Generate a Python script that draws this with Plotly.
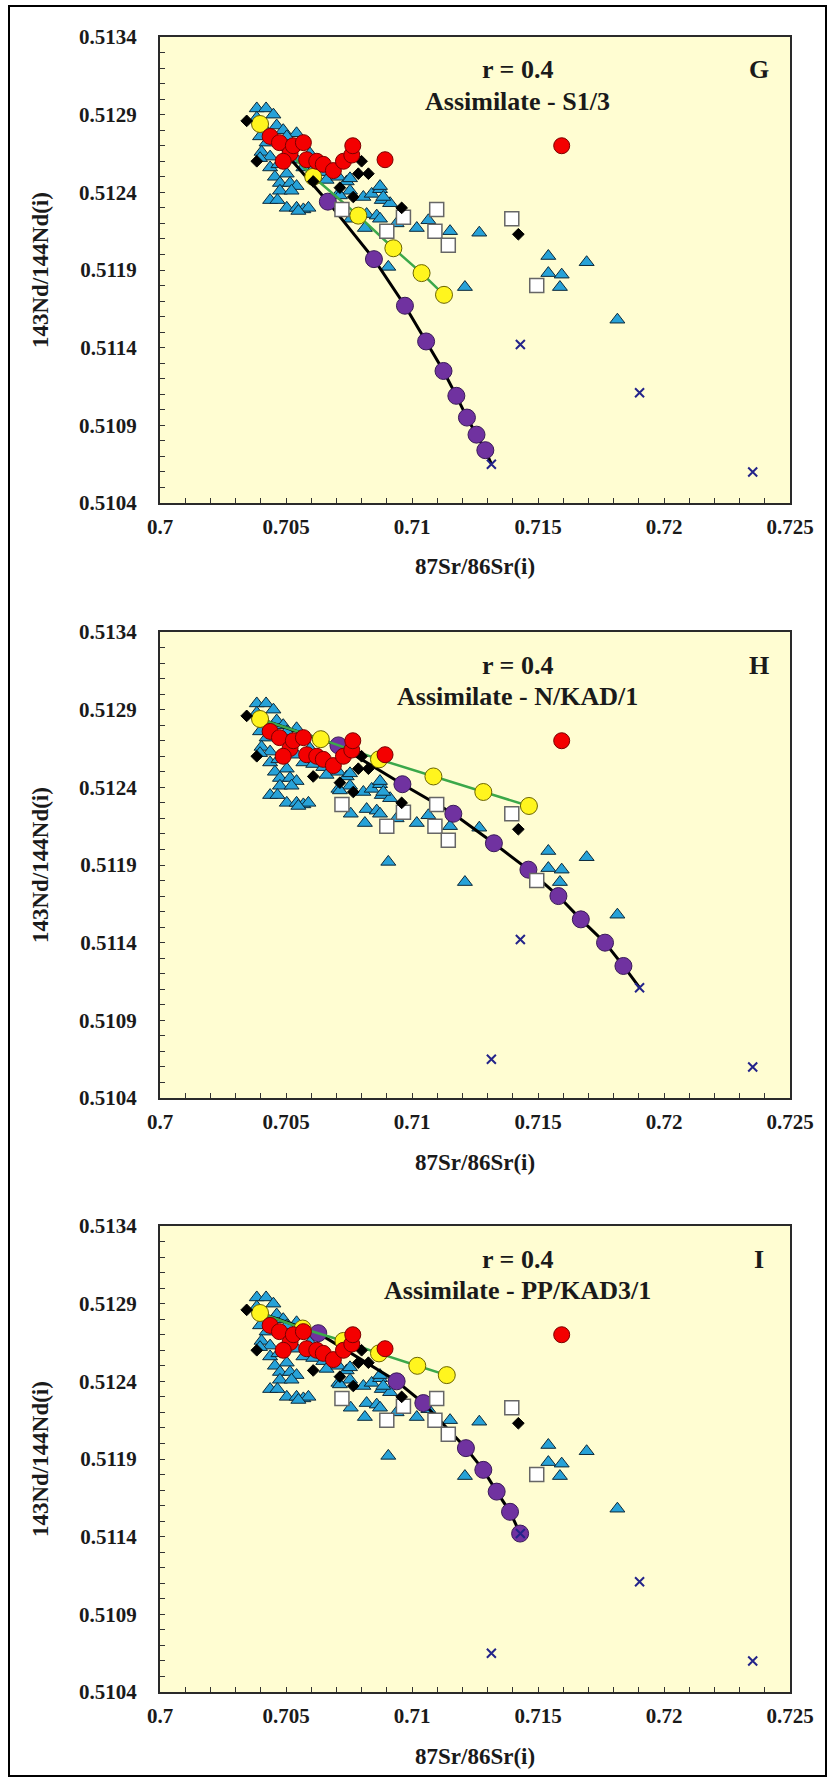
import plotly.graph_objects as go

# ---------------- data ----------------
x_ticks = [0.7, 0.705, 0.71, 0.715, 0.72, 0.725]
x_ticktext = ["0.7", "0.705", "0.71", "0.715", "0.72", "0.725"]
y_ticks = [0.5104, 0.5109, 0.5114, 0.5119, 0.5124, 0.5129, 0.5134]
y_ticktext = ["0.5104", "0.5109", "0.5114", "0.5119", "0.5124", "0.5129", "0.5134"]

tri_x = [0.70384, 0.70421, 0.70450, 0.70384, 0.70410, 0.70463, 0.70489, 0.70397, 0.70423, 0.70403,
         0.70437, 0.70397, 0.70437, 0.70470, 0.70456, 0.70503, 0.70476, 0.70516, 0.70542, 0.70542,
         0.70503, 0.70569, 0.70542, 0.70608, 0.70648, 0.70661, 0.70708, 0.70741, 0.70754, 0.70754,
         0.70807, 0.70840, 0.70873, 0.70880, 0.70913, 0.70820, 0.70860, 0.70708, 0.70556, 0.70595,
         0.70476, 0.70522, 0.70873, 0.70886, 0.70873, 0.70939, 0.70714, 0.70813, 0.70757,
         0.70437, 0.70466, 0.70503, 0.70542, 0.70569, 0.70589, 0.70549,
         0.70906, 0.71019, 0.71065, 0.71151, 0.71267, 0.71541, 0.71541, 0.71594, 0.71587, 0.71693,
         0.71210, 0.71815]
tri_y = [0.51294, 0.51294, 0.51290, 0.51288, 0.51282, 0.51283, 0.51280, 0.51276, 0.51272, 0.51266,
         0.51263, 0.51262, 0.51256, 0.51258, 0.51250, 0.51252, 0.51246, 0.51246, 0.51244, 0.51278,
         0.51276, 0.51256, 0.51261, 0.51255, 0.51253, 0.51248, 0.51250, 0.51247, 0.51249, 0.51241,
         0.51237, 0.51239, 0.51242, 0.51235, 0.51233, 0.51226, 0.51225, 0.51239, 0.51272, 0.51265,
         0.51241, 0.51241, 0.51244, 0.51237, 0.51223, 0.51220, 0.51238, 0.51217, 0.51223,
         0.51235, 0.51235, 0.51230, 0.51230, 0.51229, 0.51230, 0.51228,
         0.51192, 0.51217, 0.51222, 0.51215, 0.51214, 0.51199, 0.51188, 0.51187, 0.51179, 0.51195,
         0.51179, 0.51158]

red_x = [0.70437, 0.70474, 0.70516, 0.70489, 0.70529, 0.70569, 0.70582, 0.70622, 0.70648, 0.70688,
         0.70728, 0.70761, 0.70765, 0.70893, 0.71594]
red_y = [0.51276, 0.51272, 0.51265, 0.51260, 0.51270, 0.51272, 0.51261, 0.51260, 0.51258, 0.51254,
         0.51260, 0.51264, 0.51270, 0.51261, 0.51270]

dia_x = [0.70344, 0.70384, 0.70608, 0.70714, 0.70767, 0.70800, 0.70787, 0.70827, 0.70959, 0.71422]
dia_y = [0.51286, 0.51260, 0.51247, 0.51243, 0.51237, 0.51260, 0.51252, 0.51252, 0.51230, 0.51213]

sq_x = [0.70722, 0.70966, 0.70900, 0.71098, 0.71091, 0.71144, 0.71396, 0.71495]
sq_y = [0.51229, 0.51224, 0.51215, 0.51229, 0.51215, 0.51206, 0.51223, 0.51180]

cross_x = [0.71315, 0.71430, 0.71903, 0.72352]
cross_y = [0.51065, 0.51142, 0.51111, 0.51060]

# model curves per panel
start_x, start_y = 0.70397, 0.51284

g_yel_x = [0.70397, 0.70608, 0.70787, 0.70926, 0.71038, 0.71127]
g_yel_y = [0.51284, 0.51250, 0.51225, 0.51204, 0.51188, 0.51174]
g_pur_x = [0.70666, 0.70849, 0.70972, 0.71056, 0.71125, 0.71176, 0.71218, 0.71256, 0.71291]
g_pur_y = [0.51234, 0.51197, 0.51167, 0.51144, 0.51125, 0.51109, 0.51095, 0.51084, 0.51074]
g_end = (0.71315, 0.51065)

h_yel_x = [0.70397, 0.70638, 0.70869, 0.71085, 0.71283, 0.71464]
h_yel_y = [0.51284, 0.51271, 0.51258, 0.51247, 0.51237, 0.51228]
h_pur_x = [0.70708, 0.70962, 0.71164, 0.71325, 0.71462, 0.71581, 0.71670, 0.71766, 0.71839]
h_pur_y = [0.51267, 0.51242, 0.51223, 0.51204, 0.51187, 0.51170, 0.51155, 0.51140, 0.51125]
h_end = (0.71903, 0.51111)

i_yel_x = [0.70397, 0.70566, 0.70728, 0.70869, 0.71021, 0.71138]
i_yel_y = [0.51284, 0.51274, 0.51266, 0.51258, 0.51250, 0.51244]
i_pur_x = [0.70628, 0.70939, 0.71045, 0.71214, 0.71283, 0.71336, 0.71389, 0.71429]
i_pur_y = [0.51271, 0.51240, 0.51226, 0.51197, 0.51183, 0.51169, 0.51156, 0.51142]
i_end = (0.71429, 0.51142)

panel_letters = ["G", "H", "I"]
panel_assim = ["Assimilate - S1/3", "Assimilate - N/KAD/1", "Assimilate - PP/KAD3/1"]
r_text = "r = 0.4"

# ---------------- layout geometry ----------------
W, H = 830, 1779
PX_L, PX_R = 160, 790
panel_tops = [37, 632, 1226]
PANEL_H = 466

def py(p):
    return 1 - p / H

fig = go.Figure()

FONT = "Liberation Serif"
TXT = "#1a1a1a"
models = [
    (g_yel_x, g_yel_y, g_pur_x, g_pur_y, g_end),
    (h_yel_x, h_yel_y, h_pur_x, h_pur_y, h_end),
    (i_yel_x, i_yel_y, i_pur_x, i_pur_y, i_end),
]

for k in range(3):
    xa = "x" if k == 0 else f"x{k+1}"
    ya = "y" if k == 0 else f"y{k+1}"
    yel_x, yel_y, pur_x, pur_y, end = models[k]

    fig.add_trace(go.Scatter(x=tri_x, y=tri_y, mode="markers", xaxis=xa, yaxis=ya,
                             marker=dict(symbol="triangle-up", size=13, color="#27A2D8",
                                         line=dict(color="#0d2a3a", width=1))))
    fig.add_trace(go.Scatter(x=[start_x] + pur_x + [end[0]], y=[start_y] + pur_y + [end[1]],
                             mode="lines", xaxis=xa, yaxis=ya,
                             line=dict(color="black", width=3)))
    fig.add_trace(go.Scatter(x=pur_x, y=pur_y, mode="markers", xaxis=xa, yaxis=ya,
                             marker=dict(symbol="circle", size=17, color="#7032A0",
                                         line=dict(color="#3a1a58", width=1))))
    fig.add_trace(go.Scatter(x=yel_x, y=yel_y, mode="lines+markers", xaxis=xa, yaxis=ya,
                             line=dict(color="#3BA84A", width=2.5),
                             marker=dict(symbol="circle", size=17, color="#FFF51E",
                                         line=dict(color="#6b6400", width=1))))
    fig.add_trace(go.Scatter(x=sq_x, y=sq_y, mode="markers", xaxis=xa, yaxis=ya,
                             marker=dict(symbol="square", size=14, color="white",
                                         line=dict(color="#666666", width=1.5))))
    fig.add_trace(go.Scatter(x=dia_x, y=dia_y, mode="markers", xaxis=xa, yaxis=ya,
                             marker=dict(symbol="diamond", size=9, color="black",
                                         line=dict(color="black", width=1))))
    fig.add_trace(go.Scatter(x=red_x, y=red_y, mode="markers", xaxis=xa, yaxis=ya,
                             marker=dict(symbol="circle", size=16, color="#F40000",
                                         line=dict(color="#7a0000", width=1))))
    fig.add_trace(go.Scatter(x=cross_x, y=cross_y, mode="markers", xaxis=xa, yaxis=ya,
                             marker=dict(symbol="x-thin", size=9, color="#24248a",
                                         line=dict(color="#24248a", width=2))))

    top = panel_tops[k]
    bot = top + PANEL_H
    axis_common = dict(showgrid=False, zeroline=False, showline=True, linecolor="#2a2a2a",
                       linewidth=2, mirror=True, ticks="inside", ticklen=5, tickwidth=1,
                       tickcolor="#333333", automargin=False,
                       tickfont=dict(family=FONT, size=21, color=TXT, weight="bold"))
    xkey = "xaxis" if k == 0 else f"xaxis{k+1}"
    ykey = "yaxis" if k == 0 else f"yaxis{k+1}"
    fig.layout[xkey] = dict(axis_common, domain=[PX_L / W, PX_R / W], range=[0.7, 0.725],
                            anchor=ya, tickmode="array", tickvals=x_ticks, ticktext=x_ticktext,
                            ticklabelstandoff=4,
                            minor=dict(tickmode="linear", tick0=0.7, dtick=0.001, ticks="inside",
                                       ticklen=5, tickcolor="#333333"))
    fig.layout[ykey] = dict(axis_common, domain=[py(bot), py(top)], range=[0.5104, 0.5134],
                            anchor=xa, tickmode="array", tickvals=y_ticks, ticktext=y_ticktext,
                            ticklabelstandoff=17,
                            minor=dict(tickmode="linear", tick0=0.5104, dtick=0.0001, ticks="inside",
                                       ticklen=5, tickcolor="#333333"))

    # panel text
    fig.add_annotation(x=517 / W, y=py(top + 33), xref="paper", yref="paper", showarrow=False,
                       text=f"<b>{r_text}</b>", font=dict(family=FONT, size=26, color=TXT),
                       xanchor="center", yanchor="middle")
    fig.add_annotation(x=517 / W, y=py(top + 64), xref="paper", yref="paper", showarrow=False,
                       text=f"<b>{panel_assim[k]}</b>", font=dict(family=FONT, size=26, color=TXT),
                       xanchor="center", yanchor="middle")
    fig.add_annotation(x=759 / W, y=py(top + 33), xref="paper", yref="paper", showarrow=False,
                       text=f"<b>{panel_letters[k]}</b>", font=dict(family=FONT, size=26, color=TXT),
                       xanchor="center", yanchor="middle")
    # axis titles
    fig.add_annotation(x=475 / W, y=py(bot + 64), xref="paper", yref="paper", showarrow=False,
                       text="<b>87Sr/86Sr(i)</b>", font=dict(family=FONT, size=23, color=TXT),
                       xanchor="center", yanchor="middle")
    fig.add_annotation(x=40 / W, y=py(top + PANEL_H / 2), xref="paper", yref="paper", showarrow=False,
                       text="<b>143Nd/144Nd(i)</b>", font=dict(family=FONT, size=23, color=TXT),
                       textangle=-90, xanchor="center", yanchor="middle")

# outer frame
fig.add_shape(type="rect", xref="paper", yref="paper", x0=9 / W, x1=826 / W, y0=py(1776), y1=py(6),
              line=dict(color="black", width=2), fillcolor="rgba(0,0,0,0)", layer="above")

fig.update_layout(width=W, height=H, autosize=False, showlegend=False,
                  margin=dict(l=0, r=0, t=0, b=0, autoexpand=False),
                  paper_bgcolor="white", plot_bgcolor="#FFFDD2")

fig.write_html("out.html", config={"displayModeBar": False},
               post_script="document.body.style.margin='0';")
